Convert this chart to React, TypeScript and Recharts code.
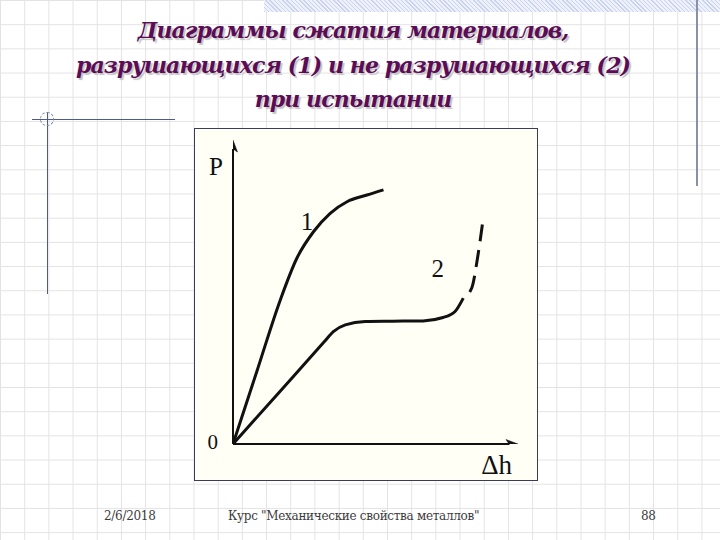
import {
  ComposedChart,
  Line,
  ReferenceDot,
  ReferenceLine,
  Scatter,
  XAxis,
  YAxis,
} from "recharts";

// curve 1 – material that breaks
const curve1Dh = [0, 8.3, 16.6, 22.4, 28.3, 34.1, 40.0, 47.0, 52.8];
const curve1P = [0, 23.7, 47.4, 61.1, 69.9, 75.9, 79.7, 81.9, 83.6];

// curve 2 – material that does not break (solid part)
const curve2Dh = [0, 16, 32, 35.2, 39.4, 46.4, 56.0, 66.7, 73.7, 77.9, 80.8];
const curve2P = [0, 16.8, 33.6, 37.0, 39.2, 40.3, 40.4, 40.5, 41.6, 43.6, 48.0];

// curve 2 – dashed continuation
const curve2DashDh = [80.8, 83.8, 85.7, 87.8];
const curve2DashP = [48.0, 51.4, 60.6, 74.3];

// annotations in chart units
const labelText = ["P", "1", "2", "0", "Δh"];
const labelDh = [-6.0, 26.0, 71.8, -7.1, 92.5];
const labelP = [91.3, 73.4, 57.8, 0.8, -6.8];
const labelSize = [25, 25, 25, 21, 27];

const titleLines = [
  "Диаграммы сжатия материалов,",
  "разрушающихся (1) и не разрушающихся (2)",
  "при испытании",
];

const footerDate = "2/6/2018";
const footerCourse = "Курс \"Механические свойства металлов\"";
const footerPage = "88";

const zip = (xs: number[], ys: number[]) => xs.map((x, i) => ({ x, y: ys[i] }));

const line1 = zip(curve1Dh, curve1P);
const line2 = zip(curve2Dh, curve2P);
const line2Dash = zip(curve2DashDh, curve2DashP);
const arrowTips = [
  { x: 100, y: 0, dir: "right" },
  { x: 0, y: 100, dir: "up" },
];

const INK = "#111111";
const SERIF = "serif";
const CYR_SERIF = "'DejaVu Serif', serif";

function Arrow(props: any) {
  const { cx, cy, payload } = props;
  if (cx == null || cy == null) return null;
  const len = 12;
  const half = 4.5;
  const d =
    payload?.dir === "up"
      ? `M${cx},${cy} L${cx - half},${cy + len} L${cx},${cy + len - 3} L${cx + half},${cy + len} Z`
      : `M${cx},${cy} L${cx - len},${cy - half} L${cx - len + 3},${cy} L${cx - len},${cy + half} Z`;
  return <path d={d} fill={INK} stroke={INK} strokeWidth={0.5} />;
}

export default function App() {
  return (
    <div
      style={{
        position: "absolute",
        left: 0,
        top: 0,
        width: 720,
        height: 540,
        overflow: "hidden",
        fontFamily: SERIF,
        backgroundColor: "#ffffff",
        backgroundImage:
          "linear-gradient(to right, #e3e3e6 1px, transparent 1px), linear-gradient(to bottom, #e3e3e6 1px, transparent 1px)",
        backgroundSize: "24.2px 24.2px",
        backgroundPosition: "0px 0px",
      }}
    >
      {/* hatched band at the top */}
      <div
        style={{
          position: "absolute",
          left: 264,
          top: 0,
          width: 456,
          height: 12,
          backgroundImage:
            "repeating-linear-gradient(45deg, #c9d3ee 0px, #c9d3ee 1px, #eef1fa 1px, #eef1fa 3px)",
        }}
      />
      {/* right vertical rule */}
      <div style={{ position: "absolute", left: 696, top: 0, width: 2, height: 186, background: "#8a90a8" }} />
      {/* left corner ornament */}
      <div style={{ position: "absolute", left: 32, top: 119, width: 143, height: 1, background: "#4f5a86" }} />
      <div style={{ position: "absolute", left: 47, top: 112, width: 1, height: 182, background: "#4f5a86" }} />
      <div
        style={{
          position: "absolute",
          left: 40,
          top: 112,
          width: 12,
          height: 12,
          borderRadius: "50%",
          border: "1px dashed #7c84a6",
        }}
      />

      {/* title */}
      <div
        style={{
          position: "absolute",
          left: 0,
          top: 13,
          width: 706,
          textAlign: "center",
          fontFamily: CYR_SERIF,
          fontStyle: "italic",
          fontWeight: 700,
          fontSize: 22,
          letterSpacing: -0.9,
          lineHeight: "34.5px",
          color: "#5b0c57",
          textShadow: "2px 2px 1px #c4c4c4",
        }}
      >
        {titleLines.map((t) => (
          <div key={t}>{t}</div>
        ))}
      </div>

      {/* chart frame */}
      <div
        style={{
          position: "absolute",
          left: 194,
          top: 128,
          width: 342,
          height: 351,
          border: "1px solid #3b3b5c",
          background: "#fffff6",
        }}
      >
        <ComposedChart
          width={342}
          height={351}
          margin={{ top: 11, right: 19, bottom: 36, left: 38 }}
        >
          <XAxis type="number" dataKey="x" domain={[0, 100]} hide allowDataOverflow />
          <YAxis type="number" dataKey="y" domain={[0, 100]} hide allowDataOverflow />
          <ReferenceLine
            segment={[
              { x: 0, y: 0 },
              { x: 97, y: 0 },
            ]}
            stroke={INK}
            strokeWidth={2}
          />
          <ReferenceLine
            segment={[
              { x: 0, y: 0 },
              { x: 0, y: 97 },
            ]}
            stroke={INK}
            strokeWidth={2}
          />
          <Scatter data={arrowTips} dataKey="y" shape={Arrow} isAnimationActive={false} />
          <Line
            data={line1}
            dataKey="y"
            type="monotone"
            stroke={INK}
            strokeWidth={3}
            dot={false}
            isAnimationActive={false}
          />
          <Line
            data={line2}
            dataKey="y"
            type="monotone"
            stroke={INK}
            strokeWidth={3}
            dot={false}
            isAnimationActive={false}
          />
          <Line
            data={line2Dash}
            dataKey="y"
            type="monotone"
            stroke={INK}
            strokeWidth={3}
            strokeDasharray="17 9"
            strokeDashoffset={17}
            dot={false}
            isAnimationActive={false}
          />
          {labelText.map((t, i) => (
            <ReferenceDot
              key={t}
              x={labelDh[i]}
              y={labelP[i]}
              r={0}
              ifOverflow="visible"
              label={{
                value: t,
                position: "center",
                fontSize: labelSize[i],
                fontFamily: SERIF,
                fill: INK,
              }}
            />
          ))}
        </ComposedChart>
      </div>

      {/* footer */}
      <div
        style={{
          position: "absolute",
          top: 509,
          left: 0,
          width: 720,
          fontFamily: CYR_SERIF,
          fontSize: 12,
          letterSpacing: -0.3,
          color: "#3c3c3c",
        }}
      >
        <span style={{ position: "absolute", left: 104 }}>{footerDate}</span>
        <span style={{ position: "absolute", left: 228 }}>{footerCourse}</span>
        <span style={{ position: "absolute", left: 641 }}>{footerPage}</span>
      </div>
    </div>
  );
}
